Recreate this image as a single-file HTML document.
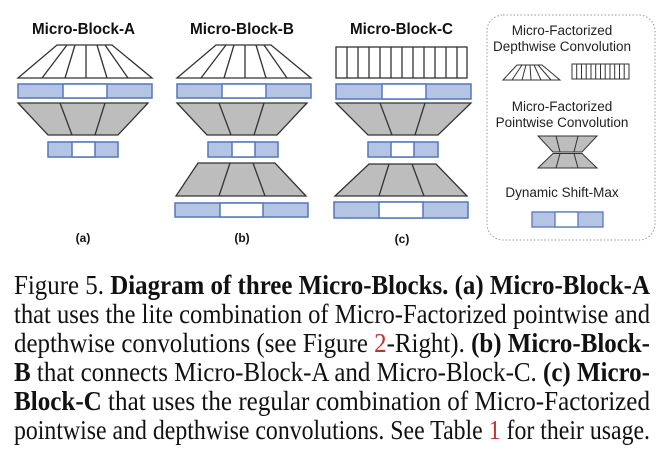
<!DOCTYPE html>
<html><head><meta charset="utf-8"><style>
html,body{margin:0;padding:0;background:#fff;}
svg{display:block;}
.t{font-family:"Liberation Sans",sans-serif;font-weight:bold;font-size:15.5px;fill:#111;}
.l{font-family:"Liberation Sans",sans-serif;font-size:13.5px;fill:#222;}
.c{font-family:"Liberation Serif",serif;font-size:27px;fill:#111;}
.b{font-weight:bold;}
.r{fill:#c0312b;}
</style></head><body>
<svg width="662" height="456" viewBox="0 0 662 456" xmlns="http://www.w3.org/2000/svg">
<g stroke-linejoin="miter">
<text class="t" x="32" y="34" textLength="103" lengthAdjust="spacingAndGlyphs">Micro-Block-A</text>
<text class="t" x="190" y="34" textLength="104" lengthAdjust="spacingAndGlyphs">Micro-Block-B</text>
<text class="t" x="350" y="34" textLength="103" lengthAdjust="spacingAndGlyphs">Micro-Block-C</text>

<g fill="#fff" stroke="#333" stroke-width="1.3">
<polygon points="57,45 112,45 152,78 18,78"/>
<path d="M67,45 L42,78 M75,45 L65,78 M86,45 L86,78 M97,45 L107,78 M105,45 L128,78" fill="none"/>
</g>
<g stroke="#5577bb" stroke-width="1.5">
<rect x="18" y="84" width="134" height="14" fill="#b4c5e4"/>
<rect x="63" y="84" width="44" height="14" fill="#fff"/>
</g>
<g fill="#bdbdbd" stroke="#333" stroke-width="1.3">
<polygon points="18,103 148,103 118,135 48,135"/>
<path d="M60,103 L72,135 M105,103 L95,135" fill="none"/>
</g>
<g stroke="#5577bb" stroke-width="1.5">
<rect x="48" y="142" width="70" height="15" fill="#b4c5e4"/>
<rect x="72" y="142" width="23" height="15" fill="#fff"/>
</g>

<g fill="#fff" stroke="#333" stroke-width="1.3">
<polygon points="216,45 271,45 311,78 177,78"/>
<path d="M226,45 L201,78 M234,45 L224,78 M245,45 L245,78 M256,45 L266,78 M264,45 L287,78" fill="none"/>
</g>
<g stroke="#5577bb" stroke-width="1.5">
<rect x="177" y="84" width="134" height="14" fill="#b4c5e4"/>
<rect x="222" y="84" width="44" height="14" fill="#fff"/>
</g>
<g fill="#bdbdbd" stroke="#333" stroke-width="1.3">
<polygon points="177,103 307,103 277,135 207,135"/>
<path d="M219,103 L231,135 M264,103 L254,135" fill="none"/>
</g>
<g stroke="#5577bb" stroke-width="1.5">
<rect x="208" y="142" width="70" height="15" fill="#b4c5e4"/>
<rect x="232" y="142" width="23" height="15" fill="#fff"/>
</g>
<g fill="#bdbdbd" stroke="#333" stroke-width="1.3">
<polygon points="198,163 275,163 306,196 176,196"/>
<path d="M230,163 L219,196 M253,163 L265,196" fill="none"/>
</g>
<g stroke="#5577bb" stroke-width="1.5">
<rect x="175" y="203" width="133" height="14" fill="#b4c5e4"/>
<rect x="220" y="203" width="43" height="14" fill="#fff"/>
</g>

<g fill="#fff" stroke="#333" stroke-width="1.3">
<rect x="336" y="47" width="131" height="31"/>
<path d="M347,47V78 M358,47V78 M369,47V78 M380,47V78 M391,47V78 M402,47V78 M413,47V78 M424,47V78 M435,47V78 M446,47V78 M457,47V78" fill="none"/>
</g>
<g stroke="#5577bb" stroke-width="1.5">
<rect x="336" y="84" width="135" height="15" fill="#b4c5e4"/>
<rect x="382" y="84" width="44" height="15" fill="#fff"/>
</g>
<g fill="#bdbdbd" stroke="#333" stroke-width="1.3">
<polygon points="336,103 471,103 438,135 368,135"/>
<path d="M380,103 L392,135 M425,103 L415,135" fill="none"/>
</g>
<g stroke="#5577bb" stroke-width="1.5">
<rect x="368" y="142" width="70" height="15" fill="#b4c5e4"/>
<rect x="391" y="142" width="23" height="15" fill="#fff"/>
</g>
<g fill="#bdbdbd" stroke="#333" stroke-width="1.3">
<polygon points="369,164 436,164 467,196 335,196"/>
<path d="M389,164 L379,196 M412,164 L424,196" fill="none"/>
</g>
<g stroke="#5577bb" stroke-width="1.5">
<rect x="334" y="202" width="134" height="16" fill="#b4c5e4"/>
<rect x="379" y="202" width="44" height="16" fill="#fff"/>
</g>

<text class="t" x="83" y="242" text-anchor="middle" style="font-size:12px">(a)</text>
<text class="t" x="242" y="242" text-anchor="middle" style="font-size:12px">(b)</text>
<text class="t" x="402" y="243" text-anchor="middle" style="font-size:12px">(c)</text>

<rect x="487" y="15" width="168" height="225" rx="16" ry="16" fill="none" stroke="#999" stroke-width="1" stroke-dasharray="1.5,2"/>
<text class="l" x="562" y="35" text-anchor="middle">Micro-Factorized</text>
<text class="l" x="562" y="51" text-anchor="middle">Depthwise Convolution</text>
<g fill="#fff" stroke="#333" stroke-width="1">
<polygon points="517,65 542,65 560,80 503,80"/>
<path d="M522,65 L512,80 M526,65 L522,80 M530,65 L531,80 M534,65 L541,80 M538,65 L551,80" fill="none"/>
<rect x="572" y="64" width="57" height="15"/>
<path d="M576.7,64V79 M581.5,64V79 M586.2,64V79 M591,64V79 M595.7,64V79 M600.5,64V79 M605.2,64V79 M610,64V79 M614.7,64V79 M619.5,64V79 M624.2,64V79" fill="none"/>
</g>
<text class="l" x="562" y="111" text-anchor="middle">Micro-Factorized</text>
<text class="l" x="562" y="127" text-anchor="middle">Pointwise Convolution</text>
<g fill="#bdbdbd" stroke="#333" stroke-width="1">
<polygon points="538,136 597,136 582,152 553,152"/>
<path d="M556,136 L560,152 M578,136 L574,152" fill="none"/>
<polygon points="553,153.5 582,153.5 597,168 538,168"/>
<path d="M560,153.5 L556,168 M574,153.5 L578,168" fill="none"/>
</g>
<text class="l" x="562" y="197" text-anchor="middle">Dynamic Shift-Max</text>
<g stroke="#5577bb" stroke-width="1.3">
<rect x="532" y="212" width="71" height="15" fill="#b4c5e4"/>
<rect x="555" y="212" width="23" height="15" fill="#fff"/>
</g>
</g>

<text class="c" x="14" y="294" textLength="636" lengthAdjust="spacingAndGlyphs">Figure 5. <tspan class="b">Diagram of three Micro-Blocks.</tspan>  <tspan class="b">(a) Micro-Block-A</tspan></text>
<text class="c" x="14" y="323" textLength="636" lengthAdjust="spacingAndGlyphs">that uses the lite combination of Micro-Factorized pointwise and</text>
<text class="c" x="14" y="352" textLength="636" lengthAdjust="spacingAndGlyphs">depthwise convolutions (see Figure <tspan class="r">2</tspan>-Right).  <tspan class="b">(b) Micro-Block-</tspan></text>
<text class="c" x="14" y="381" textLength="636" lengthAdjust="spacingAndGlyphs"><tspan class="b">B</tspan> that connects Micro-Block-A and Micro-Block-C. <tspan class="b">(c) Micro-</tspan></text>
<text class="c" x="14" y="410" textLength="636" lengthAdjust="spacingAndGlyphs"><tspan class="b">Block-C</tspan> that uses the regular combination of Micro-Factorized</text>
<text class="c" x="14" y="439" textLength="636" lengthAdjust="spacingAndGlyphs">pointwise and depthwise convolutions. See Table <tspan class="r">1</tspan> for their usage.</text>
</svg>
</body></html>
